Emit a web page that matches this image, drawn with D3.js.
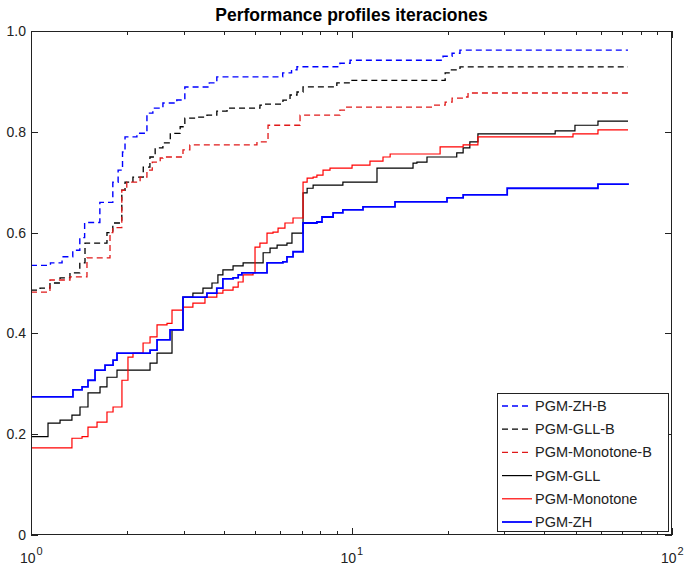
<!DOCTYPE html>
<html><head><meta charset="utf-8">
<script src="https://cdn.jsdelivr.net/npm/d3@7"></script>
<style>body{margin:0;background:#fff;}svg{display:block;font-family:"Liberation Sans",Arial,sans-serif;}</style>
</head><body><svg id="c" width="685" height="569"></svg>
<script>
const title = "Performance profiles iteraciones";
const seriesNames = ["PGM-ZH-B","PGM-GLL-B","PGM-Monotone-B","PGM-GLL","PGM-Monotone","PGM-ZH"];
const yTicks = [0,0.2,0.4,0.6,0.8,1.0];
const yTickLabels = ["0","0.2","0.4","0.6","0.8","1.0"];
const xMajor = [1,10,100];
const xMajorExp = ["0","1","2"];

const zhB_t = [1,1.15,1.25,1.35,1.42,1.47,1.64,1.80,1.87,1.93,1.965,2.14,2.30,2.40,2.58,2.85,3.02,3.6,3.80,6.1,6.5,6.76,9.2,9.9,19.3,20.6,21.8,72.9];
const zhB_v = [0.535,0.54,0.552,0.565,0.59,0.62,0.66,0.70,0.724,0.76,0.79,0.797,0.837,0.847,0.857,0.863,0.889,0.897,0.909,0.917,0.923,0.929,0.936,0.942,0.95,0.956,0.962,0.962];

const gllB_t = [1,1.067,1.146,1.232,1.323,1.42,1.474,1.726,1.80,1.92,1.965,2.08,2.24,2.35,2.44,2.58,2.72,2.92,3.02,3.30,3.54,3.80,4.09,5.18,5.3,6.11,6.43,6.76,7.06,9.0,9.9,19.6,20.3,21.8,72.9];
const gllB_v = [0.486,0.49,0.50,0.51,0.52,0.54,0.579,0.60,0.619,0.684,0.70,0.71,0.73,0.75,0.768,0.778,0.797,0.81,0.827,0.829,0.833,0.841,0.847,0.853,0.855,0.863,0.873,0.879,0.889,0.897,0.902,0.917,0.923,0.929,0.929];

const monB_t = [1,1.146,1.323,1.495,1.764,1.80,1.92,1.99,2.19,2.30,2.39,2.53,2.58,2.98,3.13,5.07,5.45,5.49,6.91,9.2,9.6,17.96,19.6,20.6,22.3,23.1,72.9];
const monB_v = [0.482,0.506,0.512,0.55,0.60,0.61,0.684,0.70,0.71,0.724,0.74,0.748,0.75,0.764,0.774,0.78,0.784,0.813,0.833,0.843,0.849,0.853,0.859,0.867,0.869,0.877,0.877];

const gll_t = [1,1.13,1.232,1.342,1.422,1.506,1.642,1.726,1.855,2.352,2.473,2.754,2.98,3.20,3.44,3.67,3.83,3.97,4.27,4.59,5.3,5.57,5.86,6.29,6.52,7.06,7.27,7.59,9.4,12.01,15.56,16.0,17.2,21.3,22.3,23.4,24.8,43.2,49.8,58.75,72.9];
const gll_v = [0.195,0.222,0.228,0.238,0.254,0.282,0.294,0.313,0.327,0.341,0.361,0.407,0.472,0.48,0.49,0.50,0.516,0.526,0.534,0.54,0.56,0.569,0.575,0.579,0.599,0.679,0.688,0.694,0.70,0.728,0.738,0.74,0.75,0.758,0.768,0.78,0.796,0.802,0.813,0.821,0.821];

const mon_t = [1,1.342,1.443,1.506,1.607,1.726,1.803,1.922,2.007,2.081,2.237,2.352,2.473,2.657,2.754,2.98,3.2,3.49,3.80,3.97,4.27,4.43,4.59,4.93,5.0,5.18,5.45,5.69,5.9,6.2,6.57,7.06,7.27,7.59,7.8,8.15,8.57,10.04,11.42,12.54,13.2,18.9,22.3,24.8,49.1,58.75,72.9];
const mon_v = [0.173,0.192,0.195,0.214,0.224,0.244,0.254,0.307,0.353,0.361,0.381,0.393,0.417,0.42,0.446,0.452,0.46,0.472,0.48,0.486,0.492,0.502,0.516,0.52,0.571,0.579,0.599,0.601,0.609,0.619,0.629,0.70,0.708,0.71,0.714,0.724,0.728,0.734,0.742,0.75,0.756,0.77,0.774,0.79,0.796,0.804,0.804];

const zh_t = [1,1.352,1.443,1.506,1.584,1.702,1.803,1.855,2.352,2.473,2.715,2.98,3.54,3.80,3.97,4.27,4.43,4.55,5.45,6.11,6.29,6.57,7.06,7.8,8.09,8.76,9.4,10.86,13.67,19.86,22.3,30.6,58.75,72.9];
const zh_v = [0.274,0.288,0.294,0.307,0.327,0.337,0.347,0.361,0.367,0.387,0.407,0.472,0.48,0.49,0.508,0.51,0.516,0.52,0.54,0.542,0.552,0.562,0.619,0.621,0.631,0.639,0.645,0.651,0.661,0.669,0.675,0.688,0.696,0.698];

const seriesT = [zhB_t,gllB_t,monB_t,gll_t,mon_t,zh_t];
const seriesV = [zhB_v,gllB_v,monB_v,gll_v,mon_v,zh_v];
const colors = ["#0000ff","#000000","#e01818","#000000","#ff0000","#0000ff"];
const dashes = ["6,4","6,4","6,4",null,null,null];
const widths = [1.4,1.3,1.3,1.2,1.2,1.8];

const L=31,R=672,T=31,B=535;
const svg = d3.select("#c");
const x = d3.scaleLog().domain([1,100]).range([L,R]);
const y = d3.scaleLinear().domain([0,1]).range([B,T]);

// title
svg.append("text").attr("x",(L+R)/2).attr("y",21).attr("text-anchor","middle")
  .attr("font-weight","bold").attr("font-size",17.5).attr("fill","#000").text(title);

// series
const line = d3.line().x(d=>x(d[0])).y(d=>y(d[1])).curve(d3.curveStepAfter);
const g = svg.append("g");
seriesT.forEach((ts,i)=>{
  const pts = ts.map((t,j)=>[t,seriesV[i][j]]);
  const p = g.append("path").attr("d",line(pts)).attr("fill","none")
    .attr("stroke",colors[i]).attr("stroke-width",widths[i]);
  if(dashes[i]) p.attr("stroke-dasharray",dashes[i]);
});

// frame
const ax = svg.append("g").attr("stroke","#222").attr("stroke-width",1).attr("fill","none");
ax.append("rect").attr("x",L+0.5).attr("y",T+0.5).attr("width",R-L-1).attr("height",B-T-1);

// x ticks
const minor = [];
for(let d=1; d<100; d*=10) for(let k=2;k<10;k++) minor.push(d*k);
minor.forEach(v=>{
  const px = Math.round(x(v))+0.5;
  ax.append("line").attr("x1",px).attr("x2",px).attr("y1",B).attr("y2",B-4);
  ax.append("line").attr("x1",px).attr("x2",px).attr("y1",T).attr("y2",T+4);
});
xMajor.forEach(v=>{
  const px = Math.round(x(v))+0.5;
  ax.append("line").attr("x1",px).attr("x2",px).attr("y1",B).attr("y2",B-7);
  ax.append("line").attr("x1",px).attr("x2",px).attr("y1",T).attr("y2",T+7);
});
// y ticks
yTicks.forEach(v=>{
  const py = Math.round(y(v))+0.5;
  ax.append("line").attr("x1",L).attr("x2",L+7).attr("y1",py).attr("y2",py);
  ax.append("line").attr("x1",R).attr("x2",R-7).attr("y1",py).attr("y2",py);
});

// labels
const lab = svg.append("g").attr("fill","#222").attr("font-size",14);
yTicks.forEach((v,i)=>{
  lab.append("text").attr("x",L-5).attr("y",y(v)+5).attr("text-anchor","end").text(yTickLabels[i]);
});
xMajor.forEach((v,i)=>{
  const px = x(v);
  const t = lab.append("text").attr("x",px-11).attr("y",563);
  t.append("tspan").text("10");
  t.append("tspan").attr("font-size",11).attr("dy",-8).attr("dx",1).text(xMajorExp[i]);
});

// legend
const lg = svg.append("g");
const lx=497, ly=393, lw=171, lh=138;
lg.append("rect").attr("x",lx+0.5).attr("y",ly+0.5).attr("width",lw).attr("height",lh)
  .attr("fill","#fff").attr("stroke","#222").attr("stroke-width",1);
seriesNames.forEach((n,i)=>{
  const cy = ly+13+i*23.2;
  const l = lg.append("line").attr("x1",lx+5).attr("x2",lx+35).attr("y1",cy).attr("y2",cy)
    .attr("stroke",colors[i]).attr("stroke-width",widths[i]);
  if(dashes[i]) l.attr("stroke-dasharray",dashes[i]);
  lg.append("text").attr("x",lx+38).attr("y",cy+5).attr("font-size",14.5).attr("fill","#222").text(n);
});
</script></body></html>
